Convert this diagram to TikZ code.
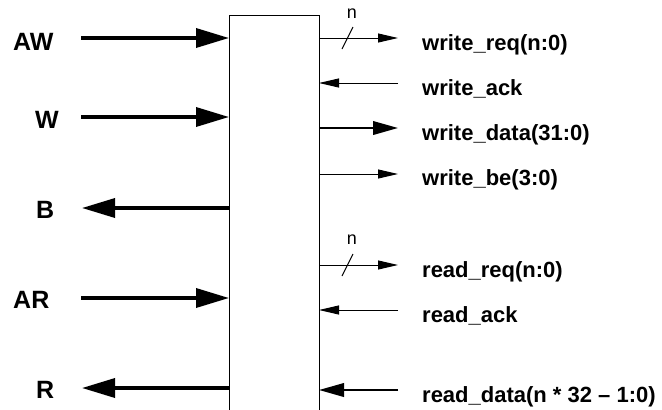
\documentclass[tikz,border=0pt]{standalone}
\usepackage{fontspec}
\setmainfont{Liberation Sans}
\usetikzlibrary{positioning,arrows.meta}

\begin{document}
\begin{tikzpicture}[x=1pt, y=-1pt,
        bus/.style={draw=black, line width=3.5pt, -{Triangle[length=33pt,width=19pt]}},
        wide/.style={draw=black, line width=2.2pt, -{Triangle[length=25pt,width=13.5pt]}},
        wire/.style={draw=black, line width=1pt, -{Triangle[length=20pt,width=9pt]}},
        port/.style={anchor=base west, inner sep=0pt, font=\bfseries\fontsize{25}{25}\selectfont},
        sig/.style={anchor=base west, inner sep=0pt, font=\bfseries\fontsize{22}{22}\selectfont},
        buswidth/.style={inner sep=0pt, font=\fontsize{18}{18}\selectfont}
    ]
        \useasboundingbox (0,0) rectangle (662,410);

        % block (runs off the bottom)
        \draw[line width=1pt] (229,410) -- (229,15) -- (319,15) -- (319,410);

        % AXI side
        \coordinate (awl) at (81,38);   \coordinate (awr) at (229,38);
        \coordinate (wl)  at (81,117);  \coordinate (wr)  at (229,117);
        \coordinate (bl)  at (82,208);  \coordinate (br)  at (229,208);
        \coordinate (arl) at (81,298);  \coordinate (arr) at (229,298);
        \coordinate (rl)  at (82,388);  \coordinate (rr)  at (229,388);

        \node [port] (aw) at (13,50)  {AW};
        \node [port] (w)  at (35,128) {W};
        \node [port] (b)  at (36,218) {B};
        \node [port] (ar) at (13,308) {AR};
        \node [port] (r)  at (36,398) {R};

        \draw [bus] (awl) -- (awr);
        \draw [bus] (wl) -- (wr);
        \draw [bus] (br) -- (bl);
        \draw [bus] (arl) -- (arr);
        \draw [bus] (rr) -- (rl);

        % user side
        \coordinate (wreql)  at (319,38);  \coordinate (wreqr)  at (398,38);
        \coordinate (wackl)  at (319,83);  \coordinate (wackr)  at (398,83);
        \coordinate (wdatl)  at (319,128); \coordinate (wdatr)  at (398,128);
        \coordinate (wbel)   at (319,174); \coordinate (wber)   at (398,174);
        \coordinate (rreql)  at (319,265); \coordinate (rreqr)  at (398,265);
        \coordinate (rackl)  at (319,310); \coordinate (rackr)  at (398,310);
        \coordinate (rdatl)  at (319,390); \coordinate (rdatr)  at (398,390);

        \node [sig] (wreq) at (422,50)  {write\_req(n:0)};
        \node [sig] (wack) at (422,95)  {write\_ack};
        \node [sig] (wdat) at (422,140) {write\_data(31:0)};
        \node [sig] (wbe)  at (422,185) {write\_be(3:0)};
        \node [sig] (rreq) at (422,277) {read\_req(n:0)};
        \node [sig] (rack) at (422,322) {read\_ack};
        \node [sig] (rdat) at (422,402) {read\_data(n * 32 – 1:0)};

        \draw [wire] (wreql) -- (wreqr);
        \draw [wire] (wackr) -- (wackl);
        \draw [wide] (wdatl) -- (wdatr);
        \draw [wire] (wbel) -- (wber);
        \draw [wire] (rreql) -- (rreqr);
        \draw [wire] (rackr) -- (rackl);
        \draw [wide] (rdatr) -- (rdatl);

        % bus width marks
        \draw [line width=1pt] (353,27) -- (342,49);
        \node [buswidth] (nw) at (352,14) {n};
        \draw [line width=1pt] (353,254) -- (342,276);
        \node [buswidth] (nr) at (352,240) {n};
    \end{tikzpicture}
\end{document}
